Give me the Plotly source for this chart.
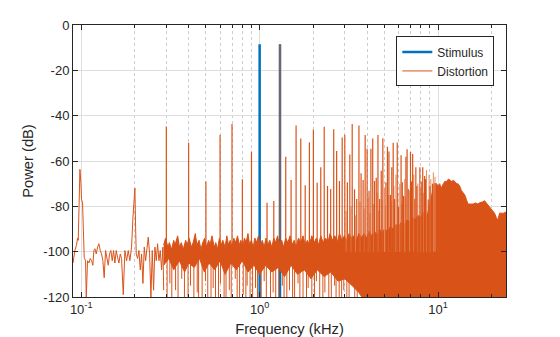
import math
import plotly.graph_objects as go

BLUE = "#0072BD"
ORANGE = "#D95319"
AXC = "#262626"

# ---- data (frequency in kHz, level in dB) ----
stim_freq = [1.0, 1.3]
stim_db = [-8.5, -8.5]

# low-frequency part of the distortion spectrum
lf_freq = [0.0900, 0.0922, 0.0942, 0.0954, 0.0963, 0.0971, 0.0984, 0.0997, 0.1005, 0.1018,
           0.1031, 0.1040, 0.1058, 0.1068, 0.1086, 0.1105, 0.1124, 0.1144, 0.1163, 0.1178,
           0.1194, 0.1215, 0.1236, 0.1257, 0.1279, 0.1301, 0.1323, 0.1346, 0.1370, 0.1394,
           0.1418, 0.1442, 0.1467, 0.1493, 0.1519, 0.1545, 0.1572, 0.1600, 0.1627, 0.1656,
           0.1684, 0.1721, 0.1758, 0.1797, 0.1836, 0.1875, 0.1916, 0.1950, 0.2000, 0.2020,
           0.2035, 0.2071, 0.2107, 0.2143, 0.2181, 0.2218, 0.2257, 0.2296, 0.2336, 0.2376,
           0.2417, 0.2459, 0.2502, 0.2545, 0.2589, 0.2634, 0.2680, 0.2727, 0.2774, 0.2822,
           0.2871, 0.2900]
lf_db = [-105, -99.5, -97, -94, -95, -77, -63.7, -70, -77, -78.5,
         -90.5, -102.5, -104, -120, -104, -105, -103, -104, -106, -99.5,
         -98.7, -101, -98, -96.5, -99.5, -101, -104, -111.5, -99.5, -102.5,
         -106, -101, -99.5, -104, -99.5, -105, -99.5, -102.5, -105, -101,
         -103, -119, -99.5, -104, -99.5, -104, -98, -85, -72, -90.5,
         -101, -103, -99.5, -108, -101, -114, -98, -104, -99.5, -93.6,
         -101, -120, -99.5, -117, -98, -104, -96.5, -104, -99.5, -108,
         -98, -117]

# harmonic / intermodulation peaks
peak_freq = [0.3, 0.4, 0.5, 0.6, 0.7, 0.8, 0.9, 1.1, 1.2, 1.3,
             1.4, 1.5, 1.6, 1.7, 1.8, 1.9, 2.0, 2.1, 2.2, 2.3,
             2.4, 2.5, 2.6, 2.7, 2.8, 2.9, 3.0, 3.1, 3.2, 3.3,
             3.4, 3.5, 3.6, 3.7, 3.8, 3.9, 4.0, 4.1, 4.2, 4.3,
             4.4, 4.5, 4.6, 4.7, 4.8, 4.9, 5.1, 5.2, 5.3, 5.4,
             5.5, 5.6, 5.7, 5.9, 6.0, 6.2, 6.3, 6.4, 6.6, 6.7,
             6.8, 7.0, 7.1, 7.2, 7.4, 7.5, 7.6, 7.8, 7.9, 8.1,
             8.2, 8.4, 8.5, 8.7, 8.8, 9.0, 9.2, 9.3]
peak_db = [-44.8, -51.9, -69.0, -48.5, -43.7, -68.0, -55.9, -78.4, -77.6, -8.5,
           -58.1, -68.4, -44.3, -50.1, -70.7, -51.8, -46.2, -69.6, -62.8, -44.9,
           -71.0, -72.4, -46.0, -55.6, -68.8, -49.6, -48.4, -69.4, -57.1, -43.7,
           -72.5, -76.8, -44.3, -65.4, -68.4, -48.5, -54.6, -73.1, -54.6, -50.1,
           -68.8, -67.4, -48.5, -76.8, -64.3, -50.0, -69.4, -53.7, -55.8, -75.0,
           -62.8, -52.0, -76.8, -51.8, -80.3, -57.5, -69.4, -75.4, -58.1, -54.8,
           -72.3, -56.0, -69.0, -56.9, -76.6, -62.8, -71.0, -84.0, -62.8, -69.0,
           -62.8, -66.6, -68.0, -84.0, -77.0, -71.0, -75.0, -70.0]

# weaker peaks between the main ones (3-10 kHz)
minor_freq = [3.05, 3.25, 3.45, 3.65, 3.85, 4.05, 4.15, 4.35, 4.55, 4.65,
              4.85, 5.0, 5.05, 5.25, 5.45, 5.65, 5.8, 5.95, 6.1, 6.25,
              6.5, 6.55, 6.9, 7.3, 7.7, 8.0, 8.3, 8.6, 8.9, 9.1,
              9.4, 9.6]
minor_db = [-82, -80, -84, -78, -81, -76, -83, -79, -74, -82,
            -77, -72, -80, -75, -78, -71, -66, -74, -70, -79,
            -68, -76, -73, -66, -70, -72, -74, -64, -66, -68,
            -65, -67]

# upper edge of the dense noise band
band_freq = [0.29, 0.297, 0.306, 0.312, 0.321, 0.33, 0.336, 0.347, 0.356, 0.364,
             0.373, 0.385, 0.393, 0.402, 0.415, 0.424, 0.436, 0.445, 0.458, 0.469,
             0.48, 0.492, 0.503, 0.518, 0.527, 0.541, 0.556, 0.568, 0.58, 0.595,
             0.61, 0.622, 0.64, 0.655, 0.668, 0.684, 0.7, 0.716, 0.733, 0.752,
             0.768, 0.785, 0.803, 0.822, 0.84, 0.86, 0.878, 0.898, 0.92, 0.94,
             0.96, 0.985, 1.01, 1.035, 1.06, 1.085, 1.11, 1.14, 1.17, 1.2,
             1.23, 1.26, 1.29, 1.33, 1.36, 1.4, 1.44, 1.48, 1.52, 1.56,
             1.6, 1.65, 1.7, 1.75, 1.8, 1.85, 1.9, 1.96, 2.02, 2.08,
             2.14, 2.2, 2.27, 2.34, 2.41, 2.48, 2.56, 2.64, 2.72, 2.8,
             2.89, 2.98, 3.07, 3.17, 3.27, 3.37, 3.48, 3.6, 3.72, 3.84,
             3.97, 4.1, 4.25, 4.4, 4.55, 4.7, 4.85, 5.0, 5.2, 5.4,
             5.6, 5.8, 6.0, 6.2, 6.45, 6.7, 6.95, 7.2, 7.45, 7.7,
             7.95, 8.2, 8.45, 8.7, 8.9, 9.1, 9.3, 9.5, 9.8, 10.0,
             10.2, 10.4, 10.7, 10.9, 11.2, 11.4, 11.7, 11.9, 12.2, 12.4,
             12.7, 12.9, 13.2, 13.5, 13.8, 14.1, 14.4, 14.7, 15.2, 15.7,
             16.2, 16.7, 17.0, 17.4, 17.8, 18.2, 18.8, 19.4, 19.8, 20.3,
             20.7, 21.2, 21.6, 22.1, 22.6, 23.3, 24.0]
band_top = [-97, -94, -98, -96, -99, -95, -97, -93, -98, -96,
            -99, -95, -97, -94, -98, -96, -92, -97, -95, -99,
            -96, -94, -98, -95, -97, -93, -98, -96, -99, -94,
            -97, -95, -98, -93, -97, -95, -98, -94, -96, -93,
            -97, -95, -98, -94, -96, -92, -97, -95, -98, -94,
            -96, -93, -97, -95, -98, -94, -97, -95, -98, -94,
            -96, -93, -97, -95, -98, -94, -96, -93, -97, -95,
            -98, -94, -96, -93, -97, -95, -97, -93, -96, -94,
            -97, -93, -96, -94, -96, -92, -95, -93, -96, -92,
            -95, -93, -95, -92, -94, -93, -95, -92, -94, -92,
            -94, -91, -93, -91, -93, -90, -92, -90, -91, -89,
            -90, -88, -89, -87, -88, -86, -87, -85, -86, -84,
            -85, -83, -82, -84, -80, -77, -74, -70, -70, -71,
            -70, -72, -70, -69, -69, -68, -68.5, -69, -68.5, -69,
            -70, -70, -71, -73, -74, -75, -77, -79, -79, -79,
            -78.5, -79, -78.5, -78.4, -78, -77.5, -79, -80, -81, -82,
            -83, -85, -86, -83, -83, -83, -82.5]

# lower edge of the solid part of the band
bot_freq = [0.29, 0.31, 0.33, 0.355, 0.38, 0.40, 0.43, 0.46, 0.49, 0.52,
            0.56, 0.60, 0.64, 0.69, 0.74, 0.80, 0.86, 0.93, 1.0, 1.08,
            1.17, 1.27, 1.38, 1.5, 1.63, 1.78, 1.94, 2.1, 2.3, 2.5,
            2.75, 3.0, 3.3, 3.6, 3.8, 24.0]
bot_db = [-106, -103, -108, -104, -109, -105, -107, -103, -109, -105,
          -108, -104, -110, -105, -108, -104, -109, -106, -110, -106,
          -109, -107, -111, -106, -110, -108, -112, -108, -111, -109,
          -113, -112, -115, -118, -121, -121]

# deep dips of the noise below the solid band
dip_freq = [0.303, 0.314, 0.322, 0.338, 0.349, 0.366, 0.379, 0.397, 0.41, 0.428,
            0.447, 0.455, 0.476, 0.497, 0.512, 0.534, 0.549, 0.566, 0.588, 0.603,
            0.632, 0.648, 0.676, 0.693, 0.73, 0.748, 0.772, 0.809, 0.837, 0.851,
            0.884, 0.913, 0.948, 0.972, 1.02, 1.06, 1.09, 1.15, 1.19, 1.23,
            1.28, 1.34, 1.37, 1.42, 1.47, 1.53, 1.57, 1.64, 1.68, 1.75,
            1.83, 1.87, 1.96, 2.03, 2.08, 2.17, 2.26, 2.32, 2.44, 2.52,
            2.63, 2.68, 2.79, 2.88, 2.96, 3.08, 3.17, 3.28, 3.41, 3.52]
dip_db = [-121, -114, -121, -117, -121, -112, -121, -121, -115, -121,
          -118, -121, -121, -113, -121, -121, -116, -121, -121, -114,
          -121, -121, -117, -121, -112, -121, -121, -119, -121, -115,
          -121, -121, -116, -121, -121, -113, -121, -121, -118, -121,
          -121, -115, -121, -121, -117, -121, -121, -114, -121, -121,
          -121, -116, -121, -121, -113, -121, -121, -118, -121, -121,
          -115, -121, -121, -121, -117, -121, -121, -114, -121, -121]

y_tickvals = [-120, -100, -80, -60, -40, -20, 0]
y_ticktext = ["-120", "-100", "-80", "-60", "-40", "-20", "0"]
x_tickvals = [0.1, 1, 10]
x_ticktext = ["10<sup>-1</sup>", "10<sup>0</sup>", "10<sup>1</sup>"]
x_minor = [0.2, 0.3, 0.4, 0.5, 0.6, 0.7, 0.8, 0.9, 2, 3, 4, 5, 6, 7, 8, 9, 20]

FLOOR = -130       # drawing floor (below the visible axis)
SPIKE_BASE = -100  # peaks start inside the noise band
DIP_BASE = -103    # dips start inside the noise band


def spikes(freqs, tops, base):
    xs, ys = [], []
    for f, t in zip(freqs, tops):
        xs += [f, f, None]
        ys += [base, t, None]
    return xs, ys


fig = go.Figure()

sx, sy = spikes(stim_freq, stim_db, FLOOR)
fig.add_trace(go.Scatter(x=sx, y=sy, mode="lines", name="Stimulus",
                         line=dict(color=BLUE, width=2.5), hoverinfo="skip"))

# noise band (filled polygon)
poly_x = band_freq + bot_freq[::-1]
poly_y = band_top + bot_db[::-1]
fig.add_trace(go.Scatter(x=poly_x, y=poly_y, mode="lines", fill="toself",
                         fillcolor=ORANGE, line=dict(color=ORANGE, width=1),
                         legendgroup="dist", showlegend=False, hoverinfo="skip"))

dx, dy = spikes(dip_freq, dip_db, DIP_BASE)
fig.add_trace(go.Scatter(x=dx, y=dy, mode="lines", line=dict(color=ORANGE, width=1),
                         legendgroup="dist", showlegend=False, hoverinfo="skip"))

mx, my = spikes(minor_freq, minor_db, SPIKE_BASE)
fig.add_trace(go.Scatter(x=mx, y=my, mode="lines", line=dict(color="#E58A5C", width=1),
                         legendgroup="dist", showlegend=False, hoverinfo="skip"))

px_, py_ = spikes(peak_freq, peak_db, SPIKE_BASE)
fig.add_trace(go.Scatter(x=px_, y=py_, mode="lines", line=dict(color=ORANGE, width=1.2),
                         legendgroup="dist", showlegend=False, hoverinfo="skip"))

fig.add_trace(go.Scatter(x=lf_freq, y=lf_db, mode="lines", name="Distortion",
                         legendgroup="dist", line=dict(color=ORANGE, width=1),
                         hoverinfo="skip"))

fig.update_layout(
    width=560, height=337,
    margin=dict(l=73, r=54, t=25, b=40),
    paper_bgcolor="white", plot_bgcolor="white",
    font=dict(family="Liberation Sans, Arial, sans-serif", size=13, color=AXC),
    showlegend=True,
    legend=dict(x=0.973, y=0.958, xanchor="right", yanchor="top",
                bgcolor="white", bordercolor=AXC, borderwidth=1,
                font=dict(size=12), tracegroupgap=0, itemwidth=30),
)

fig.update_xaxes(
    type="log", range=[math.log10(0.09), math.log10(24)], automargin=False,
    tickmode="array", tickvals=x_tickvals, ticktext=x_ticktext,
    ticks="inside", ticklen=5, tickcolor=AXC, tickwidth=1,
    showline=True, linecolor=AXC, linewidth=1, mirror="allticks",
    showgrid=True, gridcolor="#dedede", gridwidth=1, zeroline=False,
    minor=dict(tickmode="array", tickvals=x_minor, ticks="inside", ticklen=3,
               tickcolor=AXC, showgrid=True, gridcolor="#cccccc", griddash="dot"),
    title=dict(text="Frequency (kHz)", font=dict(size=14.7), standoff=8),
)
fig.update_yaxes(
    range=[-120, 0], automargin=False,
    tickmode="array", tickvals=y_tickvals, ticktext=y_ticktext,
    ticks="inside", ticklen=5, tickcolor=AXC, tickwidth=1,
    showline=True, linecolor=AXC, linewidth=1, mirror="allticks",
    showgrid=True, gridcolor="#dedede", gridwidth=1, zeroline=False,
    title=dict(text="Power (dB)", font=dict(size=14.7), standoff=6),
)

fig.write_html("out.html")
